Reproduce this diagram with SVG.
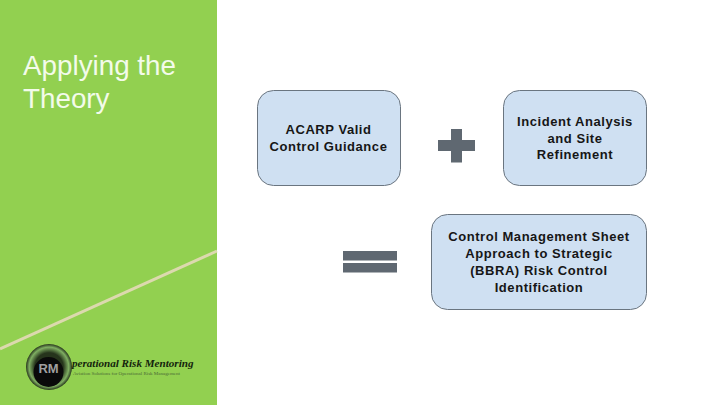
<svg xmlns="http://www.w3.org/2000/svg" width="720" height="405" viewBox="0 0 720 405">
<defs><radialGradient id="ring"><stop offset="0.62" stop-color="#26341c"/><stop offset="0.86" stop-color="#7fae62"/><stop offset="1" stop-color="#26341c"/></radialGradient></defs>
<style>
.box{fill:#cfe0f2;stroke:#6a7580;stroke-width:1}
.t{font-family:"Liberation Sans",Arial,sans-serif;font-size:13px;font-weight:700;fill:#161616;text-anchor:middle;letter-spacing:.55px}
.h{font-family:"Liberation Sans",Arial,sans-serif;font-size:27.800px;fill:#f3fbea}
.sym{fill:#5f6871}
</style>
<rect width="720" height="405" fill="#fff"/>
<g id="panel">
<rect width="217" height="405" fill="#92d050"/>
<line x1="0" y1="349" x2="217" y2="251" stroke="#dcd9ae" stroke-width="3"/>
<text class="h" x="23" y="75">Applying the</text>
<text class="h" x="23" y="108">Theory</text>
</g>
<g id="logo">
<circle cx="49" cy="367" r="23" fill="url(#ring)"/>
<circle cx="48.500" cy="372" r="15" fill="#0a0a0a"/>
<text x="48.500" y="373" font-family="'Liberation Sans',sans-serif" font-size="13" font-weight="700" fill="#a0a0a0" text-anchor="middle">RM</text>
<text x="72" y="367" font-family="'Liberation Serif',serif" font-size="11.100" font-weight="700" font-style="italic" fill="#14240c">perational Risk Mentoring</text>
<text x="73" y="375" font-family="'Liberation Serif',serif" font-size="5" fill="#4a6a35">Aviation Solutions for Operational Risk Management</text>
</g>
<g id="n1">
<rect class="box" x="257.500" y="90.500" width="143" height="95" rx="16"/>
<text class="t" x="328.500" y="134">ACARP Valid</text>
<text class="t" x="328.500" y="151">Control Guidance</text>
</g>
<g id="plus"><rect class="sym" x="451" y="129" width="11" height="33.500"/><rect class="sym" x="438" y="140" width="37" height="11"/></g>
<g id="n2">
<rect class="box" x="503.500" y="90.500" width="143" height="95" rx="16"/>
<text class="t" x="575" y="126">Incident Analysis</text>
<text class="t" x="575" y="142.500">and Site</text>
<text class="t" x="575" y="159">Refinement</text>
</g>
<g id="equals"><rect class="sym" x="343" y="251" width="54" height="9.500"/><rect class="sym" x="343" y="263" width="54" height="9.500"/></g>
<g id="n3">
<rect class="box" x="431.500" y="214.500" width="215" height="95" rx="16"/>
<text class="t" x="539" y="241">Control Management Sheet</text>
<text class="t" x="539" y="258">Approach to Strategic</text>
<text class="t" x="539" y="275">(BBRA) Risk Control</text>
<text class="t" x="539" y="292">Identification</text>
</g>
<g id="connectors"></g>
</svg>
